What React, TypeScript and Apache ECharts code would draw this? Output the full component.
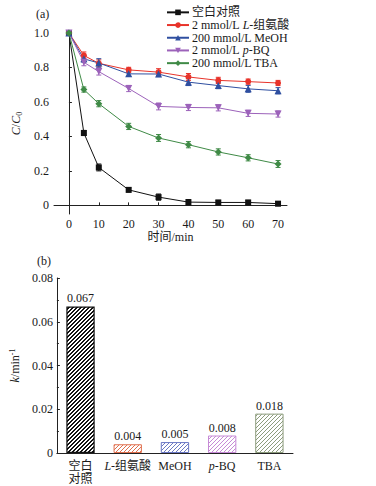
import React, { useEffect, useRef } from "react";
import * as echarts from "echarts";

// ---------- data ----------
const times = [0, 5, 10, 20, 30, 40, 50, 60, 70];
const blankVals = [1.0, 0.42, 0.22, 0.09, 0.048, 0.019, 0.017, 0.017, 0.01];
const hisVals = [1.0, 0.87, 0.824, 0.786, 0.773, 0.745, 0.725, 0.718, 0.71];
const meohVals = [1.0, 0.85, 0.826, 0.763, 0.762, 0.715, 0.695, 0.676, 0.665];
const pbqVals = [1.0, 0.83, 0.776, 0.678, 0.574, 0.568, 0.566, 0.534, 0.53];
const tbaVals = [1.0, 0.672, 0.59, 0.458, 0.391, 0.352, 0.31, 0.276, 0.24];

const blankErr = [0.012, 0.015, 0.02, 0.012, 0.018, 0.015, 0.012, 0.012, 0.012];
const hisErr = [0.012, 0.02, 0.02, 0.015, 0.02, 0.02, 0.018, 0.015, 0.015];
const meohErr = [0.012, 0.02, 0.025, 0.015, 0.015, 0.02, 0.018, 0.02, 0.018];
const pbqErr = [0.012, 0.02, 0.02, 0.018, 0.02, 0.018, 0.018, 0.018, 0.018];
const tbaErr = [0.012, 0.015, 0.018, 0.018, 0.02, 0.018, 0.018, 0.018, 0.02];

const seriesNames = [
  "空白对照",
  "2 mmol/L L-组氨酸",
  "200 mmol/L MeOH",
  "2 mmol/L p-BQ",
  "200 mmol/L TBA",
];

const xTicks = [0, 10, 20, 30, 40, 50, 60, 70];
const yTicks = [0, 0.2, 0.4, 0.6, 0.8, 1.0];

const kCats = ["空白对照", "L-组氨酸", "MeOH", "p-BQ", "TBA"];
const kValues = [0.067, 0.004, 0.005, 0.008, 0.018];

// ---------- styles ----------
const FONT = "'Liberation Serif', 'Noto Sans CJK SC', serif";
const TXT = "#1a1a1a";
const lineColors = ["#111111", "#e8332a", "#2f4fa0", "#9c62ba", "#3f8a46"];
const symbols = ["rect", "circle", "triangle", "triangle", "diamond"];
const symbolSizes = [6, 6, 7, 7, 7];
const symbolRot = [0, 0, 0, 180, 0];
const barColors = ["#111111", "#e0704f", "#6b78c4", "#c68ad6", "#8c9c7c"];

function hatch(color: string, size: number, lw: number) {
  const c = document.createElement("canvas");
  c.width = size;
  c.height = size;
  const ctx = c.getContext("2d")!;
  ctx.fillStyle = "#ffffff";
  ctx.fillRect(0, 0, size, size);
  ctx.fillStyle = color;
  for (let i = 0; i < size; i++) {
    for (let k = 0; k < lw; k++) {
      ctx.fillRect((i + k) % size, size - 1 - i, 1, 1);
    }
  }
  return { image: c, repeat: "repeat" };
}

function richName(n: string) {
  if (n === "2 mmol/L L-组氨酸") return "2 mmol/L {i|L}-组氨酸";
  if (n === "2 mmol/L p-BQ") return "2 mmol/L {i|p}-BQ";
  return n;
}

export default function App() {
  const ref = useRef<HTMLDivElement>(null);
  useEffect(() => {
    if (!ref.current) return;
    const chart = echarts.init(ref.current, undefined, { renderer: "svg" });
    const allVals = [blankVals, hisVals, meohVals, pbqVals, tbaVals];
    const allErr = [blankErr, hisErr, meohErr, pbqErr, tbaErr];

    const lineSeries: any[] = allVals.map((vals, si) => ({
      type: "line",
      name: seriesNames[si],
      xAxisIndex: 0,
      yAxisIndex: 0,
      data: times.map((t, i) => [t, vals[i]]),
      symbol: symbols[si],
      symbolSize: symbolSizes[si],
      symbolRotate: symbolRot[si],
      showAllSymbol: true,
      lineStyle: { color: lineColors[si], width: 1 },
      itemStyle: { color: lineColors[si] },
      z: 3,
    }));

    const errSeries: any[] = allVals.map((vals, si) => ({
      type: "custom",
      name: "err" + si,
      xAxisIndex: 0,
      yAxisIndex: 0,
      data: times.map((t, i) => [t, vals[i], allErr[si][i]]),
      encode: { x: 0, y: 1 },
      z: 2,
      silent: true,
      renderItem: (params: any, api: any) => {
        const x = api.value(0);
        const y = api.value(1);
        const e = api.value(2);
        const top = api.coord([x, y + e]);
        const bot = api.coord([x, y - e]);
        const w = 2.5;
        const st = { stroke: lineColors[si], lineWidth: 1 };
        return {
          type: "group",
          children: [
            { type: "line", shape: { x1: top[0], y1: top[1], x2: bot[0], y2: bot[1] }, style: st },
            { type: "line", shape: { x1: top[0] - w, y1: top[1], x2: top[0] + w, y2: top[1] }, style: st },
            { type: "line", shape: { x1: bot[0] - w, y1: bot[1], x2: bot[0] + w, y2: bot[1] }, style: st },
          ],
        };
      },
    }));

    const barSeries = {
      type: "bar",
      xAxisIndex: 1,
      yAxisIndex: 1,
      barWidth: "60%",
      data: kValues.map((v, i) => ({
        value: v,
        itemStyle: {
          color: hatch(barColors[i], 4, i === 0 ? 2 : 1),
          borderColor: barColors[i],
          borderWidth: i === 0 ? 1.2 : 1,
        },
      })),
      label: {
        show: true,
        position: "top",
        distance: 2,
        fontFamily: FONT,
        fontSize: 12,
        color: TXT,
        formatter: (p: any) => p.value.toFixed(3),
      },
    };

    const axisLineStyle = { color: "#222", width: 1 };

    const option: any = {
      animation: false,
      backgroundColor: "#ffffff",
      textStyle: { fontFamily: FONT },
      grid: [
        { left: 54, top: 33, width: 233, height: 181 },
        { left: 55, top: 278, width: 238, height: 175 },
      ],
      legend: {
        data: seriesNames,
        orient: "vertical",
        left: 166,
        top: 6,
        itemWidth: 22,
        itemHeight: 7,
        itemGap: 0,
        padding: 0,
        formatter: (n: string) => richName(n),
        textStyle: {
          fontFamily: FONT,
          fontSize: 12,
          color: TXT,
          lineHeight: 12.7,
          padding: [0, 0, 0, -2],
          rich: {
            i: { fontFamily: FONT, fontSize: 12, fontStyle: "italic", color: TXT },
          },
        },
      },
      xAxis: [
        {
          type: "value",
          gridIndex: 0,
          min: -5,
          max: 73,
          axisLine: { lineStyle: axisLineStyle },
          axisTick: { show: true, inside: true, length: 3, customValues: xTicks, lineStyle: axisLineStyle },
          axisLabel: {
            customValues: xTicks,
            fontFamily: FONT,
            fontSize: 12,
            color: TXT,
            margin: 4,
          },
          splitLine: { show: false },
          name: "时间/min",
          nameLocation: "middle",
          nameGap: 17,
          nameTextStyle: { fontFamily: FONT, fontSize: 12, color: TXT, verticalAlign: "top" },
        },
        {
          type: "category",
          gridIndex: 1,
          data: kCats,
          axisLine: { lineStyle: axisLineStyle },
          axisTick: { show: false },
          axisLabel: {
            fontFamily: FONT,
            fontSize: 12,
            color: TXT,
            margin: 6,
            lineHeight: 13,
            interval: 0,
            formatter: (v: string) => {
              if (v === "空白对照") return "空白\n对照";
              if (v === "L-组氨酸") return "{i|L}-组氨酸";
              if (v === "p-BQ") return "{i|p}-BQ";
              return v;
            },
            rich: {
              i: { fontFamily: FONT, fontSize: 12, fontStyle: "italic", color: TXT },
            },
          },
        },
      ],
      yAxis: [
        {
          type: "value",
          gridIndex: 0,
          min: -0.05,
          max: 1.0,
          axisLine: { show: true, lineStyle: axisLineStyle },
          axisTick: { show: true, inside: true, length: 3, customValues: yTicks, lineStyle: axisLineStyle },
          axisLabel: {
            customValues: yTicks,
            fontFamily: FONT,
            fontSize: 12,
            color: TXT,
            margin: 5,
            formatter: (v: number) => (Math.abs(v) < 1e-9 ? "0" : v.toFixed(1)),
          },
          splitLine: { show: false },
          name: "{i|C}/{i|C}{sub|0}",
          nameLocation: "middle",
          nameGap: 30,
          nameTextStyle: {
            rich: {
              i: { fontFamily: FONT, fontSize: 12, fontStyle: "italic", color: TXT, lineHeight: 14 },
              sub: { fontFamily: FONT, fontSize: 8, color: TXT, verticalAlign: "bottom", lineHeight: 8 },
            },
          },
        },
        {
          type: "value",
          gridIndex: 1,
          min: 0,
          max: 0.08,
          interval: 0.02,
          axisLine: { show: true, lineStyle: axisLineStyle },
          axisTick: { show: true, inside: true, length: 3, lineStyle: axisLineStyle },
          minorTick: { show: true, splitNumber: 2, length: 2, lineStyle: axisLineStyle },
          axisLabel: {
            fontFamily: FONT,
            fontSize: 12,
            color: TXT,
            margin: 4,
            formatter: (v: number) => (Math.abs(v) < 1e-9 ? "0" : v.toFixed(2)),
          },
          splitLine: { show: false },
          name: "{i|k}/min{sup|-1}",
          nameLocation: "middle",
          nameGap: 33,
          nameTextStyle: {
            rich: {
              i: { fontFamily: FONT, fontSize: 12, fontStyle: "italic", color: TXT, lineHeight: 14 },
              n: { fontFamily: FONT, fontSize: 12, color: TXT, lineHeight: 14 },
              sup: { fontFamily: FONT, fontSize: 8, color: TXT, verticalAlign: "top", lineHeight: 8 },
            },
          },
        },
      ],
      graphic: [
        { type: "text", left: 36, top: 8, style: { text: "(a)", font: "12px " + FONT, fill: TXT } },
        { type: "text", left: 37, top: 255, style: { text: "(b)", font: "12px " + FONT, fill: TXT } },
      ],
      series: [...errSeries, ...lineSeries, barSeries],
    };
    chart.setOption(option);
    return () => chart.dispose();
  }, []);
  return (
    <div
      ref={ref}
      style={{ position: "absolute", left: 0, top: 0, width: 376, height: 486 }}
    />
  );
}
